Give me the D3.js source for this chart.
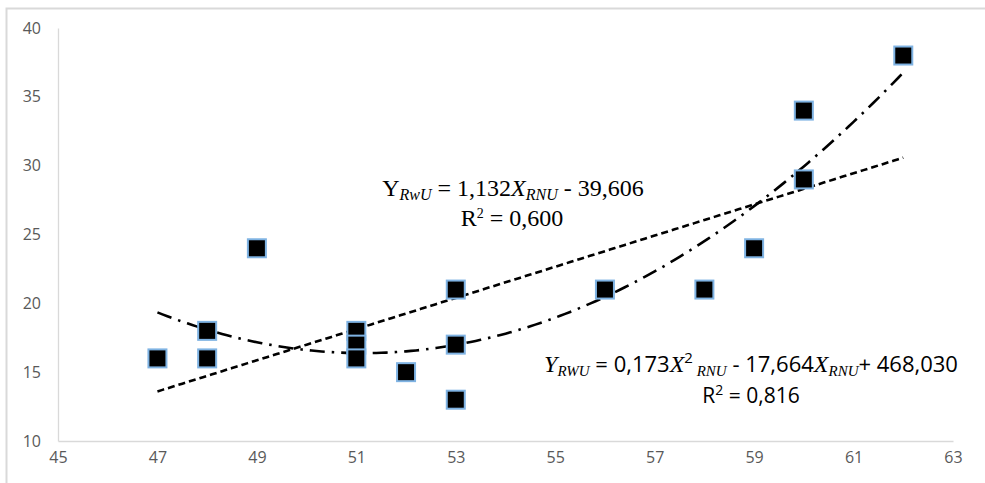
<!DOCTYPE html>
<html>
<head>
<meta charset="utf-8">
<script src="https://cdn.jsdelivr.net/npm/d3@7"></script>
<style>
  body { margin: 0; background: #fff; }
  svg { display: block; }
</style>
</head>
<body>
<div id="chart"></div>
<script>
var xVals = [47, 48, 48, 49, 51, 51, 51, 52, 53, 53, 53, 56, 58, 59, 60, 60, 62];
var yVals = [16, 18, 16, 24, 18, 17, 16, 15, 21, 17, 13, 21, 21, 24, 34, 29, 38];
var xTicks = [45, 47, 49, 51, 53, 55, 57, 59, 61, 63];
var yTicks = [10, 15, 20, 25, 30, 35, 40];

var W = 985, H = 483;
var svg = d3.select("#chart").append("svg")
            .attr("width", W)
            .attr("height", H);

// outer frame of the chart area
svg.append("rect")
   .attr("x", 6.5).attr("y", 8.5)
   .attr("width", 1000).attr("height", 500)
   .style("fill", "none")
   .style("stroke", "#d9d9d9")
   .style("stroke-width", 2);

var x = d3.scaleLinear().domain([45, 63]).range([58, 953]);
var y = d3.scaleLinear().domain([10, 40]).range([441, 28]);

// axes
var xAxis = d3.axisBottom(x).tickValues(xTicks).tickSize(0).tickPadding(11).tickFormat(d3.format("d"));
var yAxis = d3.axisLeft(y).tickValues(yTicks).tickSize(0).tickPadding(17).tickFormat(d3.format("d"));

var gx = svg.append("g").attr("transform", "translate(0," + y(10) + ")").call(xAxis);
var gy = svg.append("g").attr("transform", "translate(" + x(45) + ",0)").call(yAxis);

[gx, gy].forEach(function(g){
	g.select(".domain").style("stroke", "#d9d9d9").style("stroke-width", 1.3);
	g.selectAll("text")
	 .style("font-family", "'Open Sans', 'Liberation Sans', sans-serif")
	 .style("font-size", "16px")
	 .style("fill", "#595959");
});

// least squares fits (what the spreadsheet trendlines are)
function solve(A, b){
	var n = b.length, M = A.map(function(r, i){ return r.concat([b[i]]); });
	for (var c = 0; c < n; c++){
		var p = c;
		for (var r = c+1; r < n; r++) if (Math.abs(M[r][c]) > Math.abs(M[p][c])) p = r;
		var t = M[c]; M[c] = M[p]; M[p] = t;
		for (var r2 = 0; r2 < n; r2++){
			if (r2 === c) continue;
			var f = M[r2][c] / M[c][c];
			for (var k = c; k <= n; k++) M[r2][k] -= f * M[c][k];
		}
	}
	return M.map(function(r, i){ return r[n] / r[i]; });
}
function polyfit(deg){
	var m = deg + 1, A = [], b = [];
	for (var i = 0; i < m; i++){
		A.push([]);
		for (var j = 0; j < m; j++) A[i].push(d3.sum(xVals, function(v){ return Math.pow(v, i+j); }));
		b.push(d3.sum(xVals, function(v, k){ return yVals[k] * Math.pow(v, i); }));
	}
	return solve(A, b);
}
var lin = polyfit(1), quad = polyfit(2);
function evalPoly(c, v){ var s = 0; c.forEach(function(a, i){ s += a * Math.pow(v, i); }); return s; }

var xs = d3.range(47, 62.001, 0.1);
var line = d3.line().x(function(d){ return x(d[0]); }).y(function(d){ return y(d[1]); });

svg.append("path")
   .attr("d", line(xs.map(function(v){ return [v, evalPoly(lin, v)]; })))
   .style("fill", "none")
   .style("stroke", "black")
   .style("stroke-width", 2.6)
   .style("stroke-dasharray", "7,4");

svg.append("path")
   .attr("d", line(xs.map(function(v){ return [v, evalPoly(quad, v)]; })))
   .style("fill", "none")
   .style("stroke", "black")
   .style("stroke-width", 2.6)
   .style("stroke-dasharray", "15,7,2.5,7");

// markers
var s = 18;
svg.selectAll(".pt")
   .data(xVals)
   .enter().append("rect")
   .attr("class", "pt")
   .attr("x", function(d){ return x(d) - s/2; })
   .attr("y", function(d, i){ return y(yVals[i]) - s/2; })
   .attr("width", s)
   .attr("height", s)
   .style("fill", "black")
   .style("stroke", "#7fb3e3")
   .style("stroke-width", 2);

// equation labels
var serif = "'Liberation Serif', 'Times New Roman', serif";
var t1 = svg.append("text").attr("x", 513).attr("y", 196)
            .attr("text-anchor", "middle")
            .style("font-family", serif).style("font-size", "24px");
t1.append("tspan").text("Y");
t1.append("tspan").attr("dy", 4).style("font-style", "italic").style("font-size", "16px").text("RwU");
t1.append("tspan").attr("dy", -4).text(" = 1,132");
t1.append("tspan").style("font-style", "italic").text("X");
t1.append("tspan").attr("dy", 4).style("font-style", "italic").style("font-size", "16px").text("RNU");
t1.append("tspan").attr("dy", -4).text(" - 39,606");

var t2 = svg.append("text").attr("x", 512).attr("y", 226)
            .attr("text-anchor", "middle")
            .style("font-family", serif).style("font-size", "24px");
t2.append("tspan").text("R");
t2.append("tspan").attr("dy", -8).style("font-size", "14px").text("2");
t2.append("tspan").attr("dy", 8).text(" = 0,600");

var sans = "'Open Sans', 'Liberation Sans', sans-serif";
var t3 = svg.append("text").attr("x", 751).attr("y", 372)
            .attr("text-anchor", "middle")
            .style("font-family", sans).style("font-size", "22px");
t3.append("tspan").style("font-family", serif).style("font-style", "italic").style("font-size", "24px").text("Y");
t3.append("tspan").attr("dy", 4).style("font-family", serif).style("font-style", "italic").style("font-size", "15px").text("RWU");
t3.append("tspan").attr("dy", -4).text(" = 0,173");
t3.append("tspan").style("font-family", serif).style("font-style", "italic").style("font-size", "24px").text("X");
t3.append("tspan").attr("dy", -9).style("font-size", "15px").text("2");
t3.append("tspan").attr("dy", 13).style("font-family", serif).style("font-style", "italic").style("font-size", "15px").text(" RNU");
t3.append("tspan").attr("dy", -4).text(" - 17,664");
t3.append("tspan").style("font-family", serif).style("font-style", "italic").style("font-size", "24px").text("X");
t3.append("tspan").attr("dy", 4).style("font-family", serif).style("font-style", "italic").style("font-size", "15px").text("RNU");
t3.append("tspan").attr("dy", -4).text("+ 468,030");

var t4 = svg.append("text").attr("x", 751).attr("y", 403)
            .attr("text-anchor", "middle")
            .style("font-family", sans).style("font-size", "21px");
t4.append("tspan").text("R");
t4.append("tspan").attr("dy", -8).style("font-size", "14px").text("2");
t4.append("tspan").attr("dy", 8).text(" = 0,816");
</script>
</body>
</html>
